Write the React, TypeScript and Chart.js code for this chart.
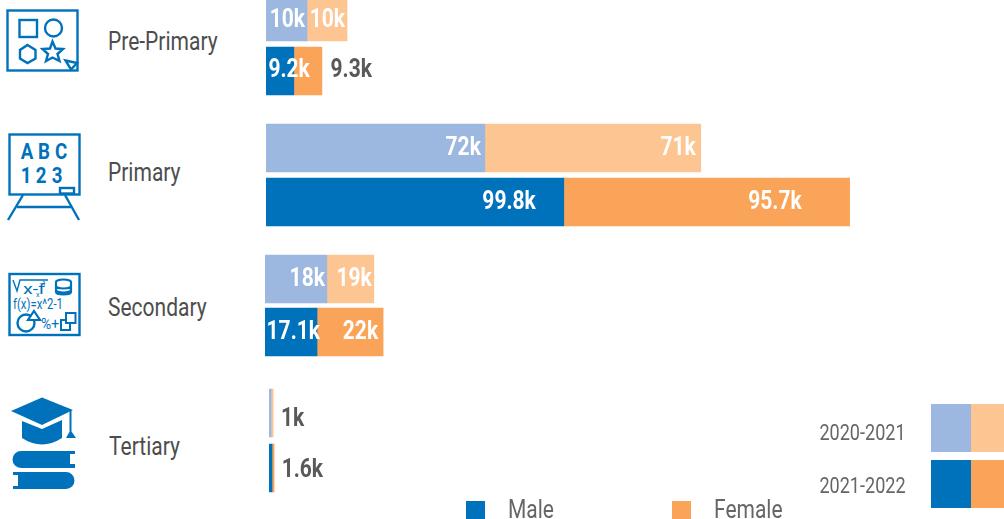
import React, { useEffect, useRef } from "react";
import { Chart, registerables } from "chart.js";

Chart.register(...registerables);

// ---- data (thousands of students; bar lengths) ----
const years = ["2020-2021", "2021-2022"];
const levels = ["Pre-Primary", "Primary", "Secondary", "Tertiary"];
const preMale = [13.7, 9.3];
const preFemale = [13.4, 9.4];
const primaryMale = [73.2, 99.6];
const primaryFemale = [72.2, 95.6];
const secondaryMale = [20.7, 17.4];
const secondaryFemale = [15.7, 22.1];
const tertiaryMale = [0.7, 1.0];
const tertiaryFemale = [0.7, 0.7];
const preMaleLabels = ["10k", "9.2k"];
const preFemaleLabels = ["10k", "9.3k"];
const primaryMaleLabels = ["72k", "99.8k"];
const primaryFemaleLabels = ["71k", "95.7k"];
const secondaryMaleLabels = ["18k", "17.1k"];
const secondaryFemaleLabels = ["19k", "22k"];
const tertiaryMaleLabels = ["", ""];
const tertiaryFemaleLabels = ["1k", "1.6k"];

// ---- styles ----
const BLUE = "#0072BC";
const ORANGE = "#FAA45A";
const LIGHT_BLUE = "#9DB8E0";
const LIGHT_ORANGE = "#FDC592";
const FONT = "Roboto, sans-serif";
const NARROW = 0.84;
const PX_PER_K = 2.99;

type Panel = {
  male: number[]; female: number[]; maleLabels: string[]; femaleLabels: string[];
  left: number; top: number; height: number; pad: number;
  maleNudge: number[]; femaleNudge: number[]; dark: boolean[]; rowDy: number[];
};

const panels: Panel[] = [
  { male: preMale, female: preFemale, maleLabels: preMaleLabels, femaleLabels: preFemaleLabels,
    left: 266, top: -10, height: 108, pad: 0, maleNudge: [-2, 16], femaleNudge: [-2, 50], dark: [false, true], rowDy: [3, -1] },
  { male: primaryMale, female: primaryFemale, maleLabels: primaryMaleLabels, femaleLabels: primaryFemaleLabels,
    left: 266, top: 121, height: 108, pad: 0, maleNudge: [-4, -28], femaleNudge: [-5, -48], dark: [false, false], rowDy: [0, 0] },
  { male: secondaryMale, female: secondaryFemale, maleLabels: secondaryMaleLabels, femaleLabels: secondaryFemaleLabels,
    left: 265, top: 252, height: 107, pad: 0.5, maleNudge: [-2, 3], femaleNudge: [-2, -5], dark: [false, false], rowDy: [0, 0] },
  { male: tertiaryMale, female: tertiaryFemale, maleLabels: tertiaryMaleLabels, femaleLabels: tertiaryFemaleLabels,
    left: 269, top: 385, height: 111, pad: 0.5, maleNudge: [0, 0], femaleNudge: [31, 49], dark: [true, true], rowDy: [6, 2] },
];

function BarPanel({ p }: { p: Panel }) {
  const ref = useRef<HTMLCanvasElement>(null);
  const width = 1004 - p.left;
  useEffect(() => {
    const labelPlugin = {
      id: "segmentLabels",
      afterDatasetsDraw(chart: any) {
        const ctx = chart.ctx;
        [p.maleLabels, p.femaleLabels].forEach((texts, d) => {
          const nudges = d === 0 ? p.maleNudge : p.femaleNudge;
          chart.getDatasetMeta(d).data.forEach((el: any, i: number) => {
            if (!texts[i]) return;
            const isDark = p.dark[i] && d === 1;
            ctx.save();
            ctx.translate(el.x + nudges[i], el.y + p.rowDy[i]);
            ctx.scale(NARROW, 1);
            ctx.font = `bold 25px ${FONT}`;
            ctx.textAlign = "right";
            ctx.textBaseline = "middle";
            ctx.fillStyle = isDark ? "#595959" : "#ffffff";
            ctx.fillText(texts[i], 0, 1);
            ctx.restore();
          });
        });
      },
    };
    const chart = new Chart(ref.current!, {
      type: "bar",
      data: {
        labels: years,
        datasets: [
          { label: "Male", data: p.male, backgroundColor: [LIGHT_BLUE, BLUE], barThickness: 48 },
          { label: "Female", data: p.female, backgroundColor: [LIGHT_ORANGE, ORANGE], barThickness: 48 },
        ],
      },
      options: {
        indexAxis: "y",
        animation: false,
        responsive: false,
        maintainAspectRatio: false,
        layout: { padding: { top: p.pad, bottom: p.pad, left: 0, right: 0 } },
        plugins: { legend: { display: false }, tooltip: { enabled: false } },
        scales: {
          x: { display: false, stacked: true, min: 0, max: width / PX_PER_K },
          y: { display: false, stacked: true },
        },
      },
      plugins: [labelPlugin],
    } as any);
    return () => chart.destroy();
  }, []);
  return (
    <canvas ref={ref} width={width} height={p.height}
      style={{ position: "absolute", left: p.left, top: p.top, width, height: p.height }} />
  );
}

function Txt({ x, y, size, color, children, right, weight }: any) {
  return (
    <div style={{
      position: "absolute", top: y, left: right ? undefined : x, right: right ? 1004 - x : undefined,
      fontFamily: FONT, fontSize: size, color, lineHeight: 1, whiteSpace: "nowrap", fontWeight: weight ?? 400,
      transform: `translateY(-50%) scaleX(${NARROW})`, transformOrigin: right ? "right center" : "left center",
    }}>{children}</div>
  );
}

function Icons() {
  const s = { fill: "none", stroke: BLUE, strokeWidth: 2.4 } as const;
  const t = { fontFamily: FONT, fill: BLUE } as const;
  const bold = (ch: string, x: number, y: number) => (
    <text key={ch} transform={`translate(${x} ${y}) scale(0.85 1)`} textAnchor="middle" {...t} fontWeight={700} fontSize={22}>{ch}</text>
  );
  return (
    <svg width={100} height={519} style={{ position: "absolute", left: 0, top: 0 }}>
      {/* pre-primary */}
      <rect x={7.5} y={10.5} width={70} height={60} {...s} />
      <rect x={19.5} y={20} width={17.5} height={17} {...s} />
      <circle cx={53.5} cy={28} r={8.5} {...s} />
      <polygon points="27.5,45 35.5,50 35.5,58.5 27.5,63 20,58.5 20,50" {...s} />
      <polygon points="52.5,41.5 55.5,48.5 63,49 57.5,54 59.5,61 52.5,57.5 46,61 48,54 42.5,49 50,48.5" {...s} />
      <polygon points="65.5,60.5 77,63 71,69.5" {...s} />
      {/* primary */}
      <rect x={9.5} y={134.5} width={70} height={60} {...s} />
      {bold("A", 27, 159)}{bold("B", 44, 159)}{bold("C", 61, 159)}
      {bold("1", 26, 183)}{bold("2", 41, 183)}{bold("3", 57, 183)}
      <rect x={60} y={188} width={14} height={5.5} {...s} fill="#fff" />
      <path d="M23 195 L8 220 M65 195 L79 220 M17 207 L71 207" {...s} />
      {/* secondary */}
      <rect x={9.5} y={274} width={70} height={61} {...s} />
      <path d="M13 280 L17 291 L20 280 L48 280" fill="none" stroke={BLUE} strokeWidth={1.4} />
      <g {...t}>
        <text x={23} y={294} fontSize={14} textLength={22} lengthAdjust="spacingAndGlyphs">x-f</text>
        <text x={40} y={286} fontSize={7}>-1</text>
        <text x={36} y={297} fontSize={7}>x</text>
        <text x={13} y={309} fontSize={14} textLength={50} lengthAdjust="spacingAndGlyphs">f(x)=x^2-1</text>
        <text x={41} y={329} fontSize={15} textLength={18} lengthAdjust="spacingAndGlyphs">%+</text>
      </g>
      <path d="M56 282 a7.5 2.5 0 0 1 15 0 v10 a7.5 2.5 0 0 1 -15 0 Z M56 286 a7.5 2.5 0 0 0 15 0 M56 290 a7.5 2.5 0 0 0 15 0" fill="none" stroke={BLUE} strokeWidth={2.2} />
      <circle cx={26} cy={323} r={8.5} {...s} />
      <polygon points="34,311 40,320 28,320" fill="#fff" stroke={BLUE} strokeWidth={2.2} />
      <rect x={61} y={320} width={9} height={10} fill="#fff" stroke={BLUE} strokeWidth={2} />
      <rect x={66} y={313} width={9.5} height={10} fill="#fff" stroke={BLUE} strokeWidth={2} />
      {/* tertiary */}
      <polygon points="42,397.5 73,410 42,425 11,411" fill={BLUE} />
      <path d="M22 421 L42 429 L62 420 L62 438 Q42 451 22 438 Z" fill={BLUE} />
      <path d="M70.5 410 V431" stroke={BLUE} strokeWidth={2} />
      <polygon points="70.5,430 76,438 66,438" fill={BLUE} />
      <path d="M21 451 H75 V454 H70 V464 H75 V468 H21 A8.5 8.5 0 0 1 21 451 Z" fill={BLUE} />
      <path d="M13 472 H66 A8.5 8.5 0 0 1 66 489 H13 V486 H18 V475 H13 Z" fill={BLUE} />
    </svg>
  );
}

function Swatch({ x, y, w, h, c }: any) {
  return <div style={{ position: "absolute", left: x, top: y, width: w, height: h, background: c }} />;
}

export default function App() {
  const labelY = [41, 172, 307, 446];
  const labelX = [108, 108, 108, 109];
  return (
    <div style={{ position: "fixed", left: 0, top: 0, width: 1004, height: 519, overflow: "hidden", background: "#fff" }}>
      <Icons />
      {levels.map((l, i) => <Txt key={l} x={labelX[i]} y={labelY[i]} size={25} color="#4d4d4d">{l}</Txt>)}
      {panels.map((p, i) => <BarPanel key={i} p={p} />)}
      <Txt x={906} y={433} size={21.5} color="#666" right>{years[0]}</Txt>
      <Txt x={906} y={486} size={21.5} color="#666" right>{years[1]}</Txt>
      <Swatch x={931} y={404} w={40} h={48} c={LIGHT_BLUE} />
      <Swatch x={971} y={404} w={33} h={48} c={LIGHT_ORANGE} />
      <Swatch x={931} y={460} w={40} h={48} c={BLUE} />
      <Swatch x={971} y={460} w={33} h={48} c={ORANGE} />
      <Swatch x={466} y={501} w={19} h={18} c={BLUE} />
      <Swatch x={672} y={501} w={19} h={18} c={ORANGE} />
      <Txt x={508} y={509} size={25} color="#666">Male</Txt>
      <Txt x={714} y={509} size={25} color="#666">Female</Txt>
    </div>
  );
}
